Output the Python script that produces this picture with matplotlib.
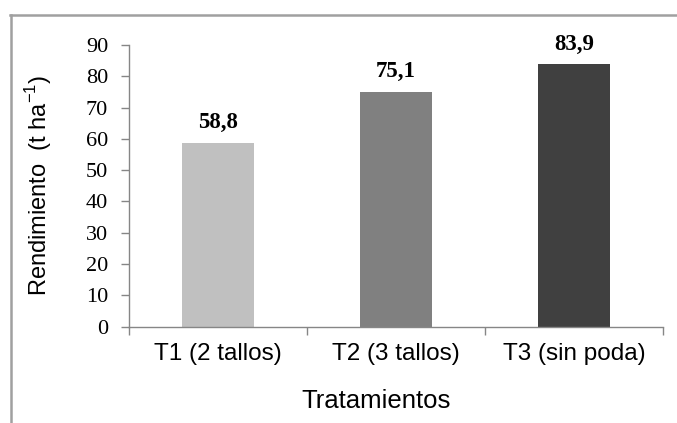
import matplotlib
import matplotlib.pyplot as plt
from matplotlib.lines import Line2D

matplotlib.use('Agg')
plt.rcParams['axes.unicode_minus'] = False

# Yield per treatment
tratamientos = ['T1 (2 tallos)', 'T2 (3 tallos)', 'T3 (sin poda)']
rendimiento = [58.8, 75.1, 83.9]
etiquetas = ['58,8', '75,1', '83,9']
colores = ['#c0c0c0', '#808080', '#404040']
y_ticks = [0, 10, 20, 30, 40, 50, 60, 70, 80, 90]

axis_gray = '#868686'

fig = plt.figure(figsize=(6.77, 4.23), dpi=100)
ax = fig.add_axes([0.1905, 0.2281, 0.7888, 0.6655])

x = list(range(len(tratamientos)))
bars = ax.bar(x, rendimiento, width=0.4, color=colores, zorder=2)

# Value labels above each bar
for bar, txt in zip(bars, etiquetas):
    ax.annotate(txt, (bar.get_x() + bar.get_width() / 2, bar.get_height()),
                xytext=(0, 10.5), textcoords='offset points',
                ha='center', va='baseline', fontsize=16.5, fontweight='bold',
                family='Liberation Serif', color='black')

ax.set_xlim(-0.5, len(tratamientos) - 0.5)
ax.set_ylim(0, 90)
ax.set_yticks(y_ticks)
ax.set_yticklabels([str(v) for v in y_ticks], family='Liberation Serif', fontsize=16)

# Category labels centred, tick marks on the category boundaries
ax.set_xticks(x)
ax.set_xticklabels(tratamientos, family='Liberation Sans', fontsize=17.5)
ax.set_xticks([i - 0.5 for i in range(len(tratamientos) + 1)], minor=True)
ax.tick_params(axis='x', which='major', length=0, pad=12)
ax.tick_params(axis='x', which='minor', length=6, width=1, color=axis_gray, direction='out')
ax.tick_params(axis='y', length=6, width=1, color=axis_gray, direction='out', pad=9)

for side in ['top', 'right']:
    ax.spines[side].set_visible(False)
for side in ['left', 'bottom']:
    ax.spines[side].set_color(axis_gray)
    ax.spines[side].set_linewidth(1)

ax.set_xlabel('Tratamientos', family='Liberation Sans', fontsize=18.5)
ax.xaxis.set_label_coords(0.4625, -0.222)
ax.set_ylabel('Rendimiento  (t ha$^{\\mathregular{-1}}$)', family='Liberation Sans', fontsize=17)
ax.yaxis.set_label_coords(-0.140, 0.5)

# Outer frame lines (top and left)
fig.add_artist(Line2D([10 / 677, 1.0], [1 - 15.5 / 423, 1 - 15.5 / 423],
                      transform=fig.transFigure, color='#a0a0a0', linewidth=1.8))
fig.add_artist(Line2D([11 / 677, 11 / 677], [0.0, 1 - 15.5 / 423],
                      transform=fig.transFigure, color='#a0a0a0', linewidth=1.8))

fig.savefig('out.png', dpi=100)
